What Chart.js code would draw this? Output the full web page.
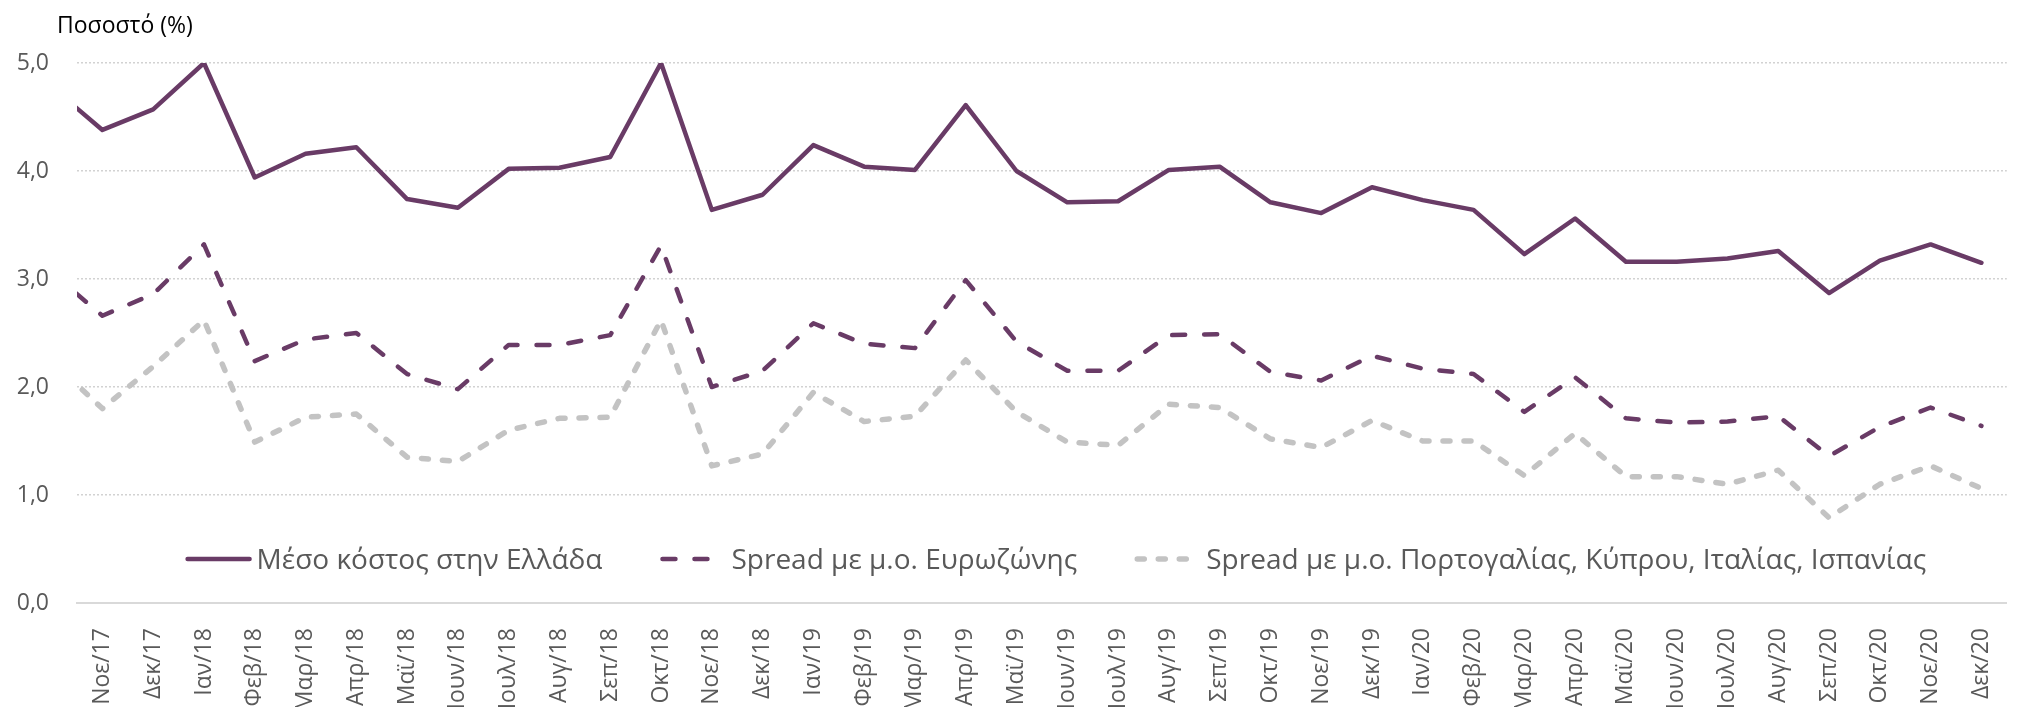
<!DOCTYPE html>
<html>
<head>
<meta charset="utf-8">
<script src="https://cdn.jsdelivr.net/npm/chart.js@4"></script>
<style>
  html, body { margin: 0; padding: 0; background: #fff; overflow: hidden; }
</style>
</head>
<body>
<canvas id="chart" width="2026" height="707"></canvas>
<script>
// first month is only there so the line runs in from the left edge (clipped, like the original)
months = ['Οκτ/17', 'Νοε/17', 'Δεκ/17',
  'Ιαν/18', 'Φεβ/18', 'Μαρ/18', 'Απρ/18', 'Μαϊ/18', 'Ιουν/18', 'Ιουλ/18', 'Αυγ/18', 'Σεπ/18', 'Οκτ/18', 'Νοε/18', 'Δεκ/18',
  'Ιαν/19', 'Φεβ/19', 'Μαρ/19', 'Απρ/19', 'Μαϊ/19', 'Ιουν/19', 'Ιουλ/19', 'Αυγ/19', 'Σεπ/19', 'Οκτ/19', 'Νοε/19', 'Δεκ/19',
  'Ιαν/20', 'Φεβ/20', 'Μαρ/20', 'Απρ/20', 'Μαϊ/20', 'Ιουν/20', 'Ιουλ/20', 'Αυγ/20', 'Σεπ/20', 'Οκτ/20', 'Νοε/20', 'Δεκ/20'];

avgCost = [4.78, 4.38, 4.57,
  5.00, 3.94, 4.16, 4.22, 3.74, 3.66, 4.02, 4.03, 4.13, 5.00, 3.64, 3.78,
  4.24, 4.04, 4.01, 4.61, 4.00, 3.71, 3.72, 4.01, 4.04, 3.71, 3.61, 3.85,
  3.73, 3.64, 3.23, 3.56, 3.16, 3.16, 3.19, 3.26, 2.87, 3.17, 3.32, 3.15];

spreadEuro = [3.06, 2.66, 2.86,
  3.32, 2.24, 2.44, 2.50, 2.12, 1.98, 2.39, 2.39, 2.48, 3.31, 2.00, 2.15,
  2.59, 2.40, 2.36, 2.99, 2.42, 2.15, 2.15, 2.48, 2.49, 2.14, 2.06, 2.29,
  2.17, 2.12, 1.77, 2.09, 1.71, 1.67, 1.68, 1.73, 1.36, 1.63, 1.81, 1.64];

spreadSouth = [2.24, 1.80, 2.19,
  2.62, 1.49, 1.72, 1.75, 1.35, 1.31, 1.60, 1.71, 1.72, 2.62, 1.27, 1.38,
  1.95, 1.68, 1.73, 2.25, 1.77, 1.49, 1.46, 1.84, 1.81, 1.52, 1.44, 1.69,
  1.50, 1.50, 1.18, 1.57, 1.17, 1.17, 1.10, 1.23, 0.79, 1.10, 1.27, 1.06];

seriesNames = ['Μέσο κόστος στην Ελλάδα',
  'Spread με μ.ο. Ευρωζώνης',
  'Spread με μ.ο. Πορτογαλίας, Κύπρου, Ιταλίας, Ισπανίας'];

yTickLabels = ['0,0', '1,0', '2,0', '3,0', '4,0', '5,0'];
unitLabel = 'Ποσοστό (%)';

const purple = '#693b66';
const grey = '#c3c3c3';
const textGrey = '#595959';

// legend sits inside the plot, so draw it ourselves from the datasets
const insideLegend = {
  id: 'insideLegend',
  afterDraw(chart) {
    const ctx = chart.ctx;
    const area = chart.chartArea;
    const sampleLen = 66, sampleGap = 5, itemGap = 58;
    ctx.save();

    ctx.font = '23px "Open Sans"';
    ctx.fillStyle = '#000';
    ctx.textAlign = 'left';
    ctx.textBaseline = 'alphabetic';
    ctx.fillText(unitLabel, area.left - 20, 33);

    ctx.font = '28px "Open Sans"';
    const sets = chart.data.datasets;
    const widths = sets.map(ds => ctx.measureText(ds.label).width);
    let total = widths.reduce((a, b) => a + b, 0) + sets.length * (sampleLen + sampleGap) + (sets.length - 1) * itemGap;
    let x = (area.left + area.right) / 2 + 14 - total / 2;
    const yLine = area.bottom - 44;

    sets.forEach((ds, i) => {
      ctx.beginPath();
      ctx.setLineDash(ds.borderDash || []);
      ctx.lineCap = 'round';
      ctx.lineWidth = ds.borderWidth;
      ctx.strokeStyle = ds.borderColor;
      ctx.moveTo(x + 2, yLine);
      ctx.lineTo(x + sampleLen - 2, yLine);
      ctx.stroke();
      ctx.setLineDash([]);
      x += sampleLen + sampleGap;
      ctx.fillStyle = textGrey;
      ctx.fillText(ds.label, x, area.bottom - 34);
      x += widths[i] + itemGap;
    });
    ctx.restore();
  }
};

new Chart(document.getElementById('chart'), {
  type: 'line',
  data: {
    labels: months,
    datasets: [{
      label: seriesNames[0],
      data: avgCost,
      borderColor: purple,
      borderWidth: 4.5,
      pointRadius: 0,
      borderCapStyle: 'round',
      borderJoinStyle: 'round'
    }, {
      label: seriesNames[1],
      data: spreadEuro,
      borderColor: purple,
      borderWidth: 4.5,
      borderDash: [13, 19],
      pointRadius: 0,
      borderCapStyle: 'round',
      borderJoinStyle: 'round'
    }, {
      label: seriesNames[2],
      data: spreadSouth,
      borderColor: grey,
      borderWidth: 5.5,
      borderDash: [7, 14],
      pointRadius: 0,
      borderCapStyle: 'round',
      borderJoinStyle: 'round'
    }]
  },
  options: {
    responsive: false,
    animation: false,
    layout: { padding: { top: 63, right: 0, bottom: 0, left: 0 } },
    plugins: {
      legend: { display: false },
      tooltip: { enabled: false }
    },
    scales: {
      x: {
        min: 'Νοε/17',
        offset: true,
        grid: { display: false },
        border: { display: true, color: '#d9d9d9', width: 2 },
        ticks: {
          autoSkip: false,
          maxRotation: 90,
          minRotation: 90,
          padding: 17,
          color: textGrey,
          font: { family: 'Open Sans', size: 23 }
        },
        afterFit(scale) { scale.height = 104; }
      },
      y: {
        min: 0,
        max: 5,
        grid: {
          color: (c) => c.tick.value === 0 ? 'rgba(0,0,0,0)' : '#d2d2d2',
          lineWidth: 1.5,
          drawTicks: false
        },
        border: { display: false, dash: [2, 2] },
        ticks: {
          stepSize: 1,
          padding: 28,
          color: textGrey,
          font: { family: 'Open Sans', size: 23 },
          callback: (v, i) => yTickLabels[i]
        },
        afterFit(scale) { scale.width = 77; }
      }
    }
  },
  plugins: [insideLegend]
});
</script>
</body>
</html>
